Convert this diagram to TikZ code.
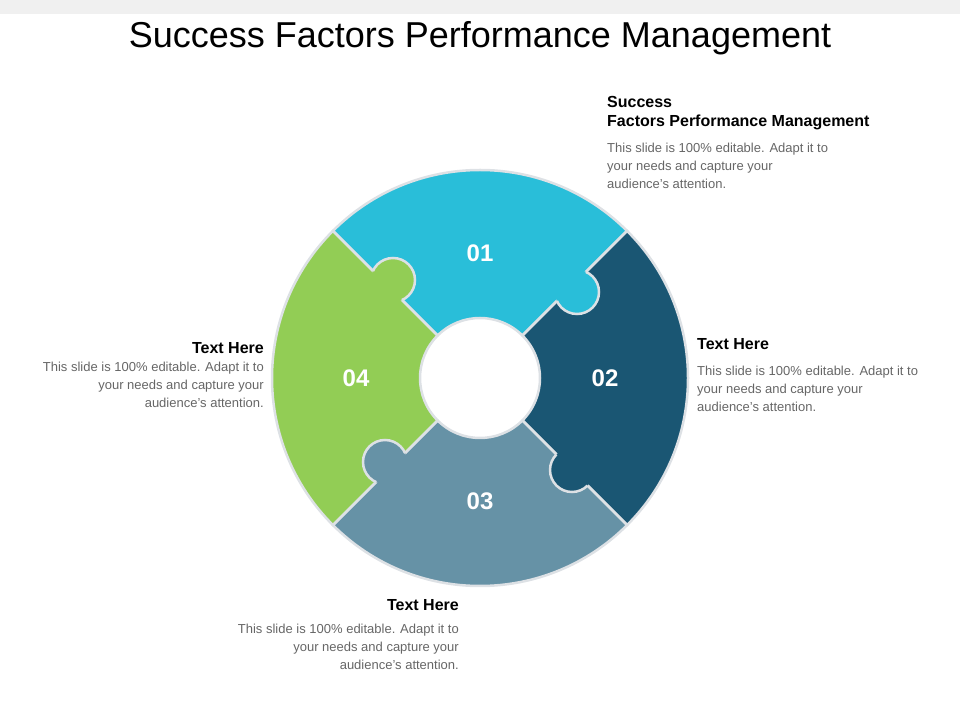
\documentclass[tikz,border=0pt]{standalone}
\usepackage{fontspec}
\setmainfont{Liberation Sans}
\definecolor{cA}{HTML}{29BED9}
\definecolor{cB}{HTML}{1A5673}
\definecolor{cC}{HTML}{6692A6}
\definecolor{cD}{HTML}{92CD55}
\definecolor{edge}{HTML}{DDE1E5}
\definecolor{body}{HTML}{666666}
\begin{document}
\begin{tikzpicture}[x=1pt,y=1pt,
  seg/.style={draw=edge,line width=2.5pt},
  num/.style={text=white,font=\fontsize{24}{24}\selectfont\bfseries},
  head/.style={font=\fontsize{16}{19}\selectfont\bfseries,inner sep=0pt},
  txt/.style={text=body,font=\fontsize{13}{18}\selectfont,inner sep=0pt}]
\useasboundingbox (0,0) rectangle (960,720);
\fill[black!6] (0,706) rectangle (960,720);
\node[font=\fontsize{36}{36}\selectfont] (title) at (480,682) {Success Factors Performance Management};
\coordinate (c) at (480,342);
\def\sector#1#2#3{\path[seg,fill=#1] ($(c)+(#2:208)$) arc(#2:#3:208) -- ($(c)+(#3:60)$) arc(#3:#2:60) -- cycle;}
\newcommand\knob[4]{% color, center, wedge angle a, b
  \fill[#1] (#2) circle (22);
  \begin{scope}
    \clip (c) -- ($(c)+(#3:400)$) -- ($(c)+(#4:400)$) -- cycle;
    \draw[seg,fill=#1] (#2) circle (22);
  \end{scope}}
\usetikzlibrary{calc}
\sector{cA}{45}{135}
\sector{cB}{-45}{45}
\sector{cC}{225}{315}
\sector{cD}{135}{225}
\knob{cD}{393,440}{45}{135}
\knob{cA}{577,428}{-45}{45}
\knob{cB}{572,250}{225}{315}
\knob{cC}{385,258}{135}{225}
\node[num] (n1) at (480,467) {01};
\node[num] (n2) at (605,342) {02};
\node[num] (n3) at (480,219) {03};
\node[num] (n4) at (356,342) {04};
\node[head,anchor=north west,align=left] (h1) at (607,624) {Success\\Factors Performance Management};
\node[txt,anchor=north west,align=left] (t1) at (607,577) {This slide is 100\% editable. Adapt it to\\your needs and capture your\\audience’s attention.};
\node[head,anchor=north west] (h2) at (697,382) {Text Here};
\node[txt,anchor=north west,align=left] (t2) at (697,354) {This slide is 100\% editable. Adapt it to\\your needs and capture your\\audience’s attention.};
\node[head,anchor=north east] (h4) at (264,378) {Text Here};
\node[txt,anchor=north east,align=right] (t4) at (264,358) {This slide is 100\% editable. Adapt it to\\your needs and capture your\\audience’s attention.};
\node[head,anchor=north east] (h3) at (459,121) {Text Here};
\node[txt,anchor=north east,align=right] (t3) at (459,96) {This slide is 100\% editable. Adapt it to\\your needs and capture your\\audience’s attention.};
\end{tikzpicture}
\end{document}
